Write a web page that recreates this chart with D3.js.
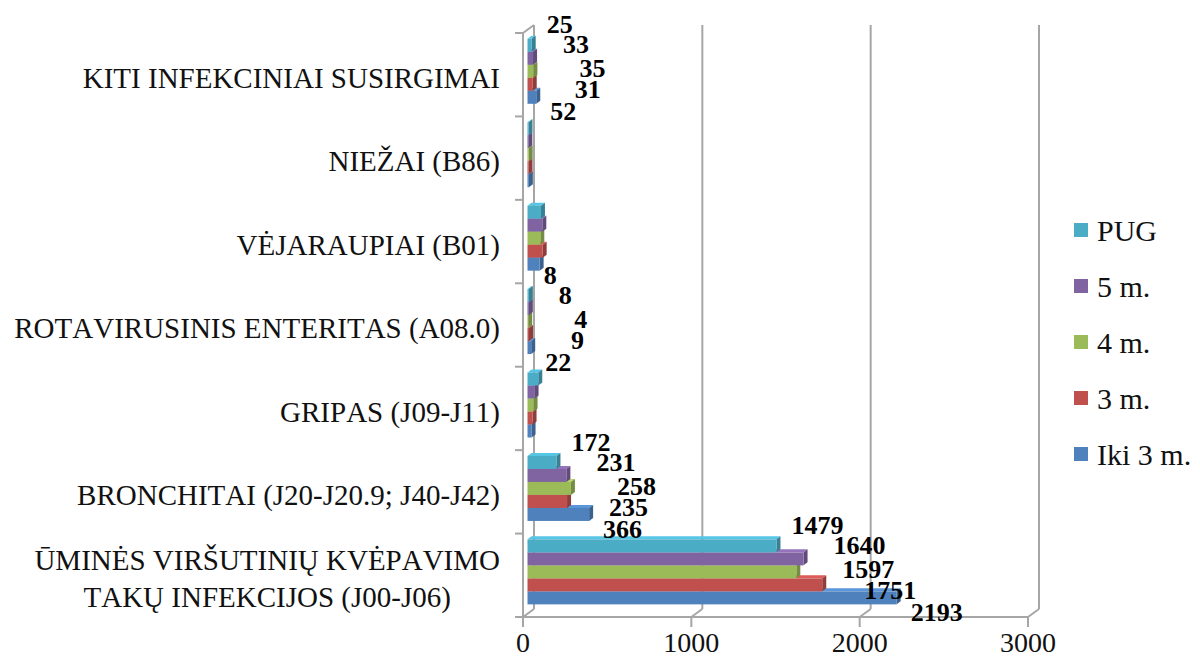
<!DOCTYPE html>
<html>
<head>
<meta charset="utf-8">
<script src="https://cdn.jsdelivr.net/npm/d3@7"></script>
<style>
body { margin: 0; background: #fff; }
svg { display: block; }
text { font-kerning: none; }
</style>
</head>
<body>
<svg width="1200" height="669"></svg>
<script>
// data, top category first
var categories = ['KITI INFEKCINIAI SUSIRGIMAI', 'NIEŽAI (B86)', 'VĖJARAUPIAI (B01)',
	'ROTAVIRUSINIS ENTERITAS (A08.0)', 'GRIPAS (J09-J11)', 'BRONCHITAI (J20-J20.9; J40-J42)',
	'ŪMINĖS VIRŠUTINIŲ KVĖPAVIMO\nTAKŲ INFEKCIJOS (J00-J06)'];
var seriesNames = ['PUG', '5 m.', '4 m.', '3 m.', 'Iki 3 m.'];
var pug = [25, 6, 80, 8, 64, 172, 1479];
var m5 = [33, 5, 88, 8, 42, 231, 1640];
var m4 = [35, 7, 76, 4, 36, 258, 1597];
var m3 = [31, 6, 90, 9, 30, 235, 1751];
var iki = [52, 8, 72, 22, 24, 366, 2193];
var labelShown = [true, false, false, true, false, true, true];
var xTicks = [0, 1000, 2000, 3000];

var seriesValues = [pug, m5, m4, m3, iki];
var colors = ['#4BACC6', '#8064A2', '#9BBB59', '#C0504D', '#4F81BD'];
// label nudges per series (excel 3d placement)
var labelDx = [15, 30, 46, 42, 14];
var labelDy = [-21, -14, -3, 5, 14];

var svg = d3.select('svg');
var serif = '"Liberation Serif", "Times New Roman", serif';
var gray = '#A6A6A6';

var x = d3.scaleLinear().domain([0, 3000]).range([523, 1028]);
var y = d3.scaleBand().domain(d3.range(categories.length)).range([33, 617]);
var ySub = d3.scaleBand().domain(d3.range(seriesNames.length)).range([9, 74]);

var back = {dx: 11, dy: -8};   // back wall offset
var front = {dx: 4.5, dy: -3.2}; // bar front face offset
var depth = {dx: 4, dy: -3};     // bar thickness

// back wall gridlines
var walls = svg.append('g')
	.attr('stroke', gray)
	.attr('stroke-width', 2)
	.attr('fill', 'none');

xTicks.forEach(function(t) {
	walls.append('line')
		.attr('x1', x(t) + back.dx).attr('x2', x(t) + back.dx)
		.attr('y1', 25).attr('y2', 617 + back.dy);
	walls.append('line')
		.attr('x1', x(t)).attr('y1', 617)
		.attr('x2', x(t) + back.dx).attr('y2', 617 + back.dy);
	walls.append('line')
		.attr('x1', x(t)).attr('x2', x(t))
		.attr('y1', 617).attr('y2', 627);
});

walls.append('line')
	.attr('x1', x(0)).attr('y1', 33)
	.attr('x2', x(0) + back.dx).attr('y2', 33 + back.dy);
walls.append('line')
	.attr('x1', x(0)).attr('x2', x(0))
	.attr('y1', 33).attr('y2', 617);
walls.append('line')
	.attr('x1', 515).attr('x2', x(3000))
	.attr('y1', 617).attr('y2', 617);

d3.range(categories.length + 1).forEach(function(i) {
	var yy = i < categories.length ? y(i) : 617;
	walls.append('line')
		.attr('x1', 515).attr('x2', x(0))
		.attr('y1', yy).attr('y2', yy);
});

// bars
var bars = svg.append('g');
var labels = [];

categories.forEach(function(cat, ci) {
	for (var s = seriesNames.length - 1; s >= 0; s--) {
		var v = seriesValues[s][ci];
		var c = colors[s];
		var y0 = y(ci) + ySub(s) + front.dy;
		var h = ySub.bandwidth();
		var x0 = x(0) + front.dx;
		var x1 = x(v) + front.dx;

		bars.append('polygon')
			.attr('points', [[x0, y0], [x1, y0], [x1 + depth.dx, y0 + depth.dy], [x0 + depth.dx, y0 + depth.dy]].join(' '))
			.attr('fill', d3.color(c).brighter(0.4));
		bars.append('polygon')
			.attr('points', [[x1, y0], [x1, y0 + h], [x1 + depth.dx, y0 + h + depth.dy], [x1 + depth.dx, y0 + depth.dy]].join(' '))
			.attr('fill', d3.color(c).darker(0.8));
		bars.append('rect')
			.attr('x', x0).attr('y', y0)
			.attr('width', x1 - x0).attr('height', h)
			.attr('fill', c);

		if (labelShown[ci]) {
			labels.push({v: v, x: x1 + labelDx[s], y: y0 + h / 2 + labelDy[s]});
		}
	}
});

svg.append('g').selectAll('text')
	.data(labels)
	.join('text')
	.attr('x', function(d) { return d.x; })
	.attr('y', function(d) { return d.y; })
	.attr('dy', '0.35em')
	.style('font-family', serif)
	.style('font-size', '26px')
	.style('font-weight', 'bold')
	.text(function(d) { return d.v; });

// category labels
categories.forEach(function(cat, ci) {
	var lines = cat.split('\n');
	var cy = y(ci) + y.bandwidth() / 2 + 3;
	var t = svg.append('text')
		.style('font-family', serif)
		.style('font-size', '29px')
		.attr('fill', '#111');
	if (lines.length == 1) {
		t.attr('x', 500).attr('y', cy).attr('dy', '0.35em')
			.attr('text-anchor', 'end').text(cat);
	} else {
		t.attr('text-anchor', 'middle');
		lines.forEach(function(l, li) {
			t.append('tspan')
				.attr('x', 0)
				.attr('y', cy + (li - (lines.length - 1) / 2) * 37)
				.attr('dy', '0.35em')
				.text(l);
		});
		var bb = t.node().getBBox();
		t.attr('transform', 'translate(' + (500 - bb.x - bb.width) + ',0)');
	}
});

// x tick labels
svg.append('g').selectAll('text')
	.data(xTicks)
	.join('text')
	.attr('x', function(d) { return x(d); })
	.attr('y', 642)
	.attr('dy', '0.35em')
	.attr('text-anchor', 'middle')
	.style('font-family', serif)
	.style('font-size', '28px')
	.attr('fill', '#111')
	.text(function(d) { return d; });

// legend
var legend = svg.append('g').selectAll('g')
	.data(seriesNames)
	.join('g')
	.attr('transform', function(d, i) { return 'translate(1074,' + (230 + i * 56) + ')'; });

legend.append('rect')
	.attr('x', 0).attr('y', -7)
	.attr('width', 14).attr('height', 14)
	.attr('fill', function(d, i) { return colors[i]; });

legend.append('text')
	.attr('x', 23)
	.attr('dy', '0.35em')
	.style('font-family', serif)
	.style('font-size', '30px')
	.attr('fill', '#111')
	.text(function(d) { return d; });
</script>
</body>
</html>
